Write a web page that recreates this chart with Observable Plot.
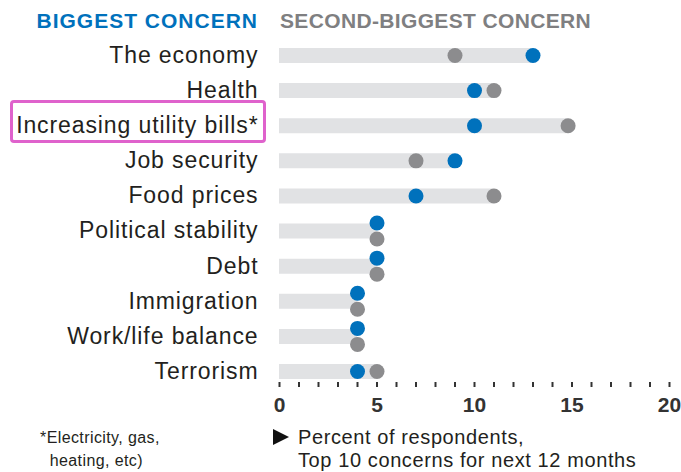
<!DOCTYPE html>
<html><head><meta charset="utf-8">
<script src="https://cdn.jsdelivr.net/npm/d3@7"></script>
<script src="https://cdn.jsdelivr.net/npm/@observablehq/plot@0.6"></script>
<style>
body{margin:0;background:#fff;font-family:"Liberation Sans",Arial,sans-serif;color:#231f20;}
#wrap{position:relative;width:681px;height:472px;overflow:hidden;}
#head{position:relative;height:36px;}
.hd{position:absolute;top:10px;font-weight:700;font-size:21px;line-height:21px;white-space:nowrap;}
#h1{right:423px;color:#0071bc;letter-spacing:1px;}
#h2{left:280px;color:#7f7f81;letter-spacing:0.35px;}
#chart svg [aria-label="y-axis tick label"] text{letter-spacing:0.9px;}
.note{position:absolute;top:426px;line-height:23px;white-space:nowrap;}
#n1{left:40px;font-size:16px;letter-spacing:0.4px;}
#n2{left:298px;font-size:20px;letter-spacing:0.6px;}
#tri{position:absolute;left:273px;top:429px;width:0;height:0;border-left:16px solid #111;border-top:8px solid transparent;border-bottom:8px solid transparent;}
#box{position:absolute;left:10px;top:100px;width:256px;height:43px;border:3px solid #df62cc;border-radius:4px;box-sizing:border-box;}
</style></head><body>
<div id="wrap">
  <div id="head">
    <span class="hd" id="h1">BIGGEST CONCERN</span>
    <span class="hd" id="h2">SECOND-BIGGEST CONCERN</span>
  </div>
  <div id="chart"></div>
  <div id="box"></div>
  <div class="note" id="n1">*Electricity, gas,<br>&nbsp;&nbsp;heating, etc)</div>
  <div id="tri"></div>
  <div class="note" id="n2">Percent of respondents,<br>Top 10 concerns for next 12 months</div>
</div>
<script>
const categories = ["The economy","Health","Increasing utility bills*","Job security","Food prices","Political stability","Debt","Immigration","Work/life balance","Terrorism"];
const biggest = [13,10,10,9,7,5,5,4,4,4];
const secondBiggest = [9,11,14.8,7,11,5,5,4,4,5];
const xTicks = [0,1,2,3,4,5,6,7,8,9,10,11,12,13,14,15,16,17,18,19,20];
const xTickLabels = [0,5,10,15,20];

const rows = categories.map((c,i)=>({cat:c, b:biggest[i], s:secondBiggest[i], max:Math.max(biggest[i],secondBiggest[i])}));
const unequal = rows.filter(d=>d.b!==d.s);
const equal = rows.filter(d=>d.b===d.s);
const BLUE="#0071bc", GRAY="#8c8c8e", BAR="#e1e2e4";

const chart = Plot.plot({
  width:681, height:386,
  marginLeft:279, marginRight:12, marginTop:8, marginBottom:40,
  style:{fontFamily:'"Liberation Sans", Arial, sans-serif', color:"#231f20", background:"#fff"},
  x:{domain:[0,20]},
  y:{type:"point", domain:categories, padding:0.313, round:false},
  marks:[
    Plot.ruleY(rows,{y:"cat", x1:d=>0, x2:"max", stroke:BAR, strokeWidth:15}),
    Plot.dot(unequal,{x:"s", y:"cat", r:7.5, fill:GRAY}),
    Plot.dot(unequal,{x:"b", y:"cat", r:7.5, fill:BLUE}),
    Plot.dot(equal,{x:"s", y:"cat", dy:8, r:7.5, fill:GRAY}),
    Plot.dot(equal,{x:"b", y:"cat", dy:-8, r:7.5, fill:BLUE}),
    Plot.axisX({ticks:xTicks, tickSize:5, tickPadding:10, strokeWidth:2, stroke:"#333",
      tickFormat:d=>xTickLabels.includes(d)?String(d):"", fontSize:21, fontWeight:700, fill:"#333", label:null}),
    Plot.axisY({tickSize:0, tickPadding:21, fontSize:23, fill:"#231f20", label:null})
  ]
});
document.getElementById("chart").appendChild(chart);
</script>
</body></html>
